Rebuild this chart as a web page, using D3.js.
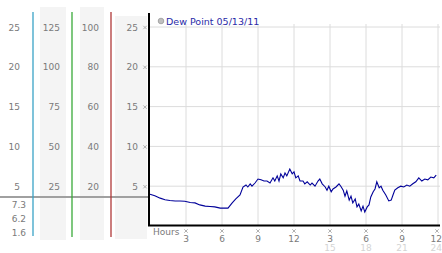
<!DOCTYPE html>
<html>
<head>
<meta charset="utf-8">
<script src="https://cdn.jsdelivr.net/npm/d3@7"></script>
<style>
  body { margin: 0; background: #fff; }
  text { font-family: "DejaVu Sans", sans-serif; }
</style>
</head>
<body>
<svg></svg>
<script>
const width = 442;
const height = 253;

// dew point readings, hours since midnight / degrees
const hours = [0, 0.4, 0.85, 1.25, 1.65, 2.1, 2.5, 2.9, 3.35, 3.75, 4.15, 4.6, 5.0, 5.4, 5.85, 6.25, 6.5, 6.85, 7.15, 7.5,
  7.75, 8.0, 8.15, 8.35, 8.5, 8.75, 9.0, 9.25, 9.5, 9.75, 10.0, 10.25, 10.4, 10.6, 10.75, 10.9, 11.1, 11.25, 11.4, 11.65,
  11.85, 12.0, 12.15, 12.35, 12.5, 12.75, 12.9, 13.1, 13.35, 13.5, 13.75, 14.0, 14.15, 14.35, 14.6, 14.75, 14.9, 15.1, 15.25, 15.5,
  15.75, 15.9, 16.1, 16.25, 16.4, 16.6, 16.75, 16.9, 17.1, 17.25, 17.4, 17.6, 17.75, 17.9, 18.1, 18.25, 18.4, 18.6, 18.75, 18.9,
  19.1, 19.25, 19.4, 19.65, 19.9, 20.1, 20.25, 20.4, 20.65, 20.9, 21.15, 21.4, 21.65, 21.9, 22.15, 22.4, 22.65, 22.9, 23.15, 23.4,
  23.65, 23.85];
const dewPoint = [4.0, 3.8, 3.5, 3.3, 3.2, 3.15, 3.15, 3.1, 2.95, 2.9, 2.65, 2.5, 2.45, 2.4, 2.25, 2.25, 2.25, 2.9, 3.4, 3.9,
  4.9, 5.15, 4.9, 5.3, 5.0, 5.4, 5.9, 5.8, 5.65, 5.65, 5.4, 6.05, 5.65, 6.3, 5.65, 6.55, 6.05, 6.65, 6.3, 7.15,
  6.55, 6.8, 6.05, 6.3, 5.65, 5.65, 5.3, 5.55, 5.15, 5.4, 5.0, 5.65, 5.9, 5.3, 4.9, 4.5, 5.0, 4.3, 4.65, 4.9,
  5.3, 5.0, 4.5, 3.75, 4.4, 3.25, 3.75, 2.9, 3.4, 2.4, 2.75, 1.9, 2.5, 1.75, 2.4, 2.65, 3.65, 4.3, 4.65, 5.55,
  4.8, 5.0, 4.5, 3.9, 3.15, 3.25, 3.9, 4.5, 4.8, 5.0, 4.9, 5.15, 5.0, 5.3, 5.55, 6.05, 5.65, 5.9, 5.8, 6.15,
  6.05, 6.4];

const yTicks = [5, 10, 15, 20, 25];
const col2Ticks = [25, 50, 75, 100, 125];
const col3Ticks = [20, 40, 60, 80, 100];
const currentVals = ["7.3", "6.2", "1.6"];
const hourTicks = [3, 6, 9, 12, 15, 18, 21, 24];
const hourLabels = ["3", "6", "9", "12", "3", "6", "9", "12"];
const hourLabels2 = [15, 18, 21, 24];
const legendLabel = "Dew Point 05/13/11";

let svg = d3.select("svg")
  .attr("width", width)
  .attr("height", height);

// scales
const scX = d3.scaleLinear().domain([0, 24]).range([150, 438]);
const scY = d3.scaleLinear().domain([0, 25]).range([226, 27]);
const scY2 = d3.scaleLinear().domain([0, 125]).range([226, 27]);
const scY3 = d3.scaleLinear().domain([0, 100]).range([226, 27]);

// left panel stripes
svg.append("rect").attr("x", 40).attr("y", 7).attr("width", 26).attr("height", 233).attr("fill", "#f4f4f4");
svg.append("rect").attr("x", 80).attr("y", 7).attr("width", 24).attr("height", 233).attr("fill", "#f4f4f4");
svg.append("rect").attr("x", 115).attr("y", 16).attr("width", 32).attr("height", 223).attr("fill", "#f4f4f4");

// gray marker line across left panel
svg.append("line").attr("x1", 0).attr("x2", 149).attr("y1", 197).attr("y2", 197)
  .attr("stroke", "#a0a0a0").attr("stroke-width", 2);

// coloured separators
[[33, "#3aa3c6", 236], [72, "#3aaa3a", 237], [111, "#b03838", 237]].forEach(([x, c, y2]) => {
  svg.append("line").attr("x1", x).attr("x2", x).attr("y1", 12).attr("y2", y2)
    .attr("stroke", c).attr("stroke-width", 1.3);
});

const lbl = "#7a7a7a";
function column(ticks, scale, xRight) {
  svg.append("g").selectAll("text")
    .data(ticks)
    .enter()
    .append("text")
    .attr("x", xRight)
    .attr("y", d => scale(d) + 3.5)
    .attr("text-anchor", "end")
    .attr("font-size", 9)
    .attr("fill", lbl)
    .text(d => d);
}
column(yTicks, scY, 20);
column(col2Ticks, scY2, 60);
column(col3Ticks, scY3, 99);
column(yTicks, scY, 138);

svg.append("g").selectAll("text")
  .data(currentVals)
  .enter()
  .append("text")
  .attr("x", 26)
  .attr("y", (d, i) => 208 + i * 14)
  .attr("text-anchor", "end")
  .attr("font-size", 9)
  .attr("fill", lbl)
  .text(d => d);

// grid
svg.append("g").selectAll("line")
  .data(yTicks)
  .enter()
  .append("line")
  .attr("x1", 150).attr("x2", 440)
  .attr("y1", d => scY(d)).attr("y2", d => scY(d))
  .attr("stroke", "#dcdcdc");

svg.append("g").selectAll("line")
  .data(hourTicks)
  .enter()
  .append("line")
  .attr("x1", d => scX(d)).attr("x2", d => scX(d))
  .attr("y1", 24).attr("y2", 225)
  .attr("stroke", "#dcdcdc");

// small tick marks (tiny crosses)
const mark = d3.symbol(d3.symbolTimes, 9);
svg.append("g").selectAll("path")
  .data(yTicks)
  .enter()
  .append("path")
  .attr("d", mark)
  .attr("transform", d => `translate(145, ${scY(d) + 0.5})`)
  .attr("fill", "none")
  .attr("stroke", "#a8a8a8")
  .attr("stroke-width", 0.9);

svg.append("g").selectAll("path")
  .data(hourTicks)
  .enter()
  .append("path")
  .attr("d", mark)
  .attr("transform", d => `translate(${Math.min(scX(d), 437)}, 231)`)
  .attr("fill", "none")
  .attr("stroke", "#a8a8a8")
  .attr("stroke-width", 0.9);

// hour labels (last one pulled inside the right edge)
const anchorFor = d => d === 24 ? "end" : "middle";
const xFor = d => d === 24 ? 442 : scX(d);

svg.append("g").selectAll("text")
  .data(hourTicks)
  .enter()
  .append("text")
  .attr("x", xFor)
  .attr("y", 242)
  .attr("text-anchor", anchorFor)
  .attr("font-size", 9)
  .attr("fill", lbl)
  .text((d, i) => hourLabels[i]);

svg.append("g").selectAll("text")
  .data(hourLabels2)
  .enter()
  .append("text")
  .attr("x", xFor)
  .attr("y", 251)
  .attr("text-anchor", anchorFor)
  .attr("font-size", 9)
  .attr("fill", "#d4d4d4")
  .text(d => d);

svg.append("text")
  .attr("x", 153).attr("y", 235)
  .attr("font-size", 9)
  .attr("fill", lbl)
  .text("Hours");

// axes
svg.append("line").attr("x1", 149).attr("x2", 149).attr("y1", 13).attr("y2", 226)
  .attr("stroke", "#000").attr("stroke-width", 2);
svg.append("line").attr("x1", 148).attr("x2", 440).attr("y1", 225.5).attr("y2", 225.5)
  .attr("stroke", "#000").attr("stroke-width", 2);

// dew point line
const data = hours.map((h, i) => ({h: h, v: dewPoint[i]}));
const line = d3.line()
  .x(d => scX(d.h))
  .y(d => scY(d.v));

svg.append("path")
  .datum(data)
  .attr("fill", "none")
  .attr("stroke", "#000099")
  .attr("stroke-width", 1.1)
  .attr("d", line);

// legend
svg.append("circle").attr("cx", 161).attr("cy", 21).attr("r", 2.8)
  .attr("fill", "#c0c0c0").attr("stroke", "#999").attr("stroke-width", 0.8);
svg.append("text")
  .attr("x", 166).attr("y", 24.5)
  .attr("font-size", 9.5)
  .attr("fill", "#2a2aa8")
  .text(legendLabel);
</script>
</body>
</html>
